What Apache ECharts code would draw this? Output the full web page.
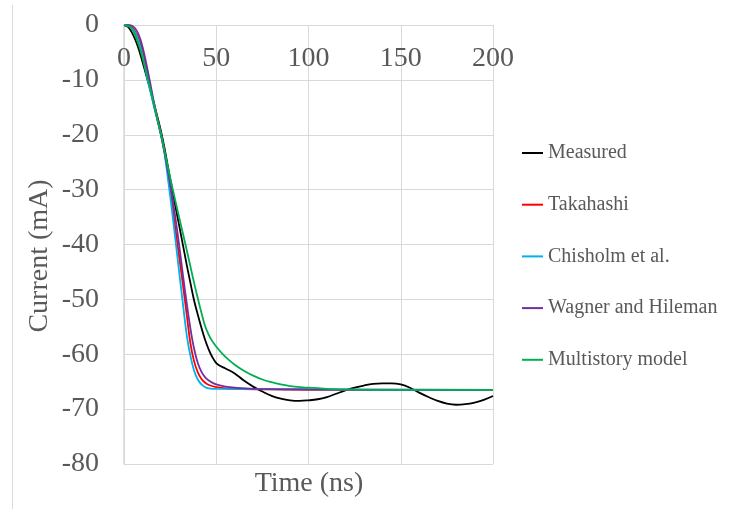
<!DOCTYPE html>
<html>
<head>
<meta charset="utf-8">
<script src="https://cdn.jsdelivr.net/npm/echarts@6/dist/echarts.min.js"></script>
<style>
  html, body { margin: 0; padding: 0; background: #fff; }
  #chart { width: 737px; height: 509px; }
</style>
</head>
<body>
<div id="chart"></div>
<script>
const seriesNames = ['Measured', 'Takahashi', 'Chisholm et al.', 'Wagner and Hileman', 'Multistory model']
const seriesColors = ['#000000', '#ff0000', '#00b0f0', '#7030a0', '#00b050']
const xTicks = { min: 0, max: 200, step: 50 }
const yTicks = { min: -80, max: 0, step: 10 }

// [time (ns), current (mA)]
const measured = [
  [0, 0], [2, -0.3], [4, -1.2], [6, -2.6], [8, -4.4], [10, -6.7], [12, -9.1], [14, -11.5],
  [16, -14], [18, -16.6], [20, -19.3], [22, -22.5], [24, -26.2], [26, -29.8], [28, -33.3],
  [30, -36.7], [32, -40.2], [34, -43.7], [36, -47], [38, -50.2], [40, -52.8], [42, -55.2],
  [44, -57.4], [46, -59.2], [48, -60.6], [50, -61.6], [52, -62.1], [55, -62.6], [60, -63.5],
  [65, -64.8], [70, -65.9], [75, -66.8], [80, -67.6], [85, -68.1], [90, -68.4], [95, -68.5],
  [100, -68.4], [105, -68.2], [110, -67.8], [115, -67.2], [120, -66.6], [125, -66.1],
  [130, -65.7], [135, -65.4], [140, -65.3], [145, -65.3], [150, -65.5], [155, -66.1],
  [160, -67], [165, -67.8], [170, -68.5], [175, -69], [180, -69.2], [185, -69.1],
  [190, -68.8], [195, -68.3], [200, -67.6]
]
const takahashi = [
  [0, 0], [2, -0.1], [4, -0.4], [6, -1.2], [8, -2.6], [10, -4.8], [12, -7.8], [14, -11.2],
  [16, -14.3], [18, -17.1], [20, -19.9], [22, -23.2], [24, -27.5], [26, -32.5], [28, -37.5],
  [30, -42.5], [32, -47.5], [34, -52.8], [36, -58], [38, -61.3], [40, -63.3], [42, -64.5],
  [44, -65.2], [46, -65.6], [50, -66], [55, -66.2], [60, -66.3], [80, -66.4], [120, -66.5],
  [200, -66.5]
]
const chisholm = [
  [0, 0], [2, -0.1], [4, -0.5], [6, -1.4], [8, -3], [10, -5.5], [12, -8.8], [14, -11.7],
  [16, -14.5], [18, -17.2], [20, -19.8], [22, -23.5], [24, -28.5], [26, -33.8], [28, -39.5],
  [30, -45.3], [32, -51], [34, -56.5], [36, -60.3], [38, -63], [40, -64.6], [42, -65.5],
  [44, -66], [46, -66.2], [50, -66.3], [100, -66.4], [200, -66.5]
]
const wagner = [
  [0, 0], [2, 0], [4, -0.1], [6, -0.6], [8, -1.8], [10, -3.9], [12, -6.9], [14, -10.2],
  [16, -13.7], [18, -17], [20, -20], [22, -23.3], [24, -27], [26, -31], [28, -35.5],
  [30, -40.4], [32, -45.7], [34, -50.7], [36, -55.3], [38, -59], [40, -61.6], [42, -63.2],
  [44, -64.2], [46, -64.8], [48, -65.2], [50, -65.5], [55, -65.9], [60, -66.1], [70, -66.3],
  [100, -66.4], [200, -66.5]
]
const multistory = [
  [0, 0], [2, -0.1], [4, -0.6], [6, -1.8], [8, -3.6], [10, -5.9], [12, -8.5], [14, -11.3],
  [16, -14.1], [18, -17], [20, -19.9], [22, -23], [24, -26.2], [26, -29.3], [28, -32.3],
  [30, -35.2], [32, -38.1], [34, -41], [36, -44], [38, -47], [40, -49.8], [42, -52.5],
  [44, -54.9], [46, -56.5], [48, -57.7], [50, -58.6], [53, -59.8], [56, -60.8], [60, -61.9],
  [65, -63], [70, -63.9], [75, -64.6], [80, -65.1], [85, -65.5], [90, -65.8], [100, -66.1],
  [110, -66.3], [120, -66.4], [140, -66.5], [200, -66.5]
]
const seriesData = [measured, takahashi, chisholm, wagner, multistory]

const font = "'Liberation Serif', 'Times New Roman', serif"
const textColor = '#595959'
const gridColor = '#d9d9d9'

const chart = echarts.init(document.getElementById('chart'), null, { renderer: 'canvas' })

const option = {
  backgroundColor: '#fff',
  animation: false,
  grid: { left: 124, top: 25, width: 369, height: 439 },
  legend: {
    orient: 'vertical',
    left: 521,
    top: 143,
    padding: 0,
    itemWidth: 21,
    itemHeight: 20,
    itemGap: 31.7,
    data: seriesNames,
    itemStyle: { opacity: 0 },
    textStyle: { color: textColor, fontFamily: font, fontSize: 20 }
  },
  xAxis: {
    type: 'value',
    position: 'top',
    min: xTicks.min,
    max: xTicks.max,
    interval: xTicks.step,
    axisLine: { onZero: false, lineStyle: { color: gridColor, width: 1 } },
    axisTick: { show: false },
    axisLabel: { inside: true, margin: 20, color: textColor, fontFamily: font, fontSize: 28 },
    splitLine: { lineStyle: { color: gridColor, width: 1 } }
  },
  yAxis: {
    type: 'value',
    min: yTicks.min,
    max: yTicks.max,
    interval: yTicks.step,
    axisLine: { show: true, lineStyle: { color: gridColor, width: 1.5 } },
    axisTick: { show: false },
    axisLabel: { margin: 25, color: textColor, fontFamily: font, fontSize: 28 },
    splitLine: { lineStyle: { color: gridColor, width: 1 } }
  },
  graphic: [
    {
      type: 'line',
      shape: { x1: 12.5, y1: 5, x2: 12.5, y2: 509 },
      style: { stroke: gridColor, lineWidth: 1 }
    },
    {
      type: 'text',
      x: 309,
      y: 484,
      style: {
        text: 'Time (ns)', fill: textColor, font: '28px ' + font,
        textAlign: 'center', textVerticalAlign: 'middle'
      }
    },
    {
      type: 'text',
      x: 40,
      y: 256,
      rotation: Math.PI / 2,
      style: {
        text: 'Current (mA)', fill: textColor, font: '28px ' + font,
        textAlign: 'center', textVerticalAlign: 'middle'
      }
    }
  ],
  series: seriesNames.map((name, i) => ({
    name: name,
    type: 'line',
    data: seriesData[i],
    smooth: 0.4,
    showSymbol: false,
    symbol: 'none',
    color: seriesColors[i],
    lineStyle: { width: 1.8, color: seriesColors[i] }
  }))
}

chart.setOption(option)
</script>
</body>
</html>
